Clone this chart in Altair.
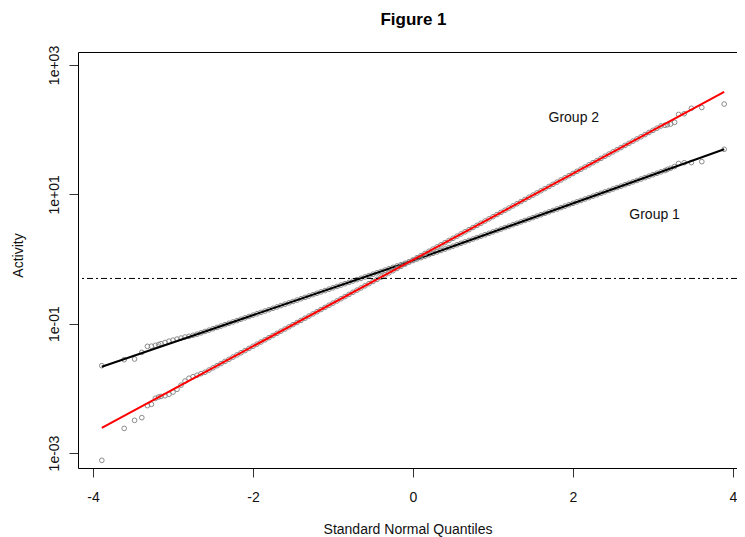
import altair as alt
import pandas as pd

# ---- data ----
q_tail_lo = [-3.89, -3.61, -3.48, -3.39, -3.32, -3.27, -3.22, -3.18, -3.15]
q_bulk = [-3.10, -3.05, -3.00, -2.95, -2.90, -2.85, -2.80, -2.75, -2.70, -2.65,
          -2.60, -2.55, -2.50, -2.45, -2.40, -2.35, -2.30, -2.25, -2.20, -2.15,
          -2.10, -2.05, -2.00, -1.95, -1.90, -1.85, -1.80, -1.75, -1.70, -1.65,
          -1.60, -1.55, -1.50, -1.45, -1.40, -1.35, -1.30, -1.25, -1.20, -1.15,
          -1.10, -1.05, -1.00, -0.95, -0.90, -0.85, -0.80, -0.75, -0.70, -0.65,
          -0.60, -0.55, -0.50, -0.45, -0.40, -0.35, -0.30, -0.25, -0.20, -0.15,
          -0.10, -0.05, 0.00,
          0.05, 0.10, 0.15, 0.20, 0.25, 0.30, 0.35, 0.40, 0.45, 0.50,
          0.55, 0.60, 0.65, 0.70, 0.75, 0.80, 0.85, 0.90, 0.95, 1.00,
          1.05, 1.10, 1.15, 1.20, 1.25, 1.30, 1.35, 1.40, 1.45, 1.50,
          1.55, 1.60, 1.65, 1.70, 1.75, 1.80, 1.85, 1.90, 1.95, 2.00,
          2.05, 2.10, 2.15, 2.20, 2.25, 2.30, 2.35, 2.40, 2.45, 2.50,
          2.55, 2.60, 2.65, 2.70, 2.75, 2.80, 2.85, 2.90, 2.95, 3.00,
          3.05, 3.10]
q_tail_hi = [3.15, 3.18, 3.22, 3.27, 3.32, 3.39, 3.48, 3.61, 3.89]

g1_tail_lo = [0.0224, 0.0277, 0.0284, 0.0360, 0.0446, 0.0448, 0.0462, 0.0475, 0.0490]
g1_bulk = [0.0511, 0.0536, 0.0556, 0.0577, 0.0598, 0.0621, 0.0637, 0.0661, 0.0687, 0.0721,
           0.0757, 0.0794, 0.0834, 0.0875, 0.0919, 0.0965, 0.1013, 0.1063, 0.1116, 0.1171,
           0.1230, 0.1291, 0.1355, 0.1423, 0.1494, 0.1568, 0.1646, 0.1728, 0.1814, 0.1904,
           0.1999, 0.2098, 0.2203, 0.2313, 0.2428, 0.2549, 0.2676, 0.2809, 0.2949, 0.3096,
           0.3250, 0.3412, 0.3581, 0.3760, 0.3947, 0.4143, 0.4350, 0.4566, 0.4793, 0.5032,
           0.5282, 0.5545, 0.5821, 0.6110, 0.6414, 0.6734, 0.7069, 0.7421, 0.7790, 0.8178,
           0.8585, 0.9013, 0.9462,
           0.998, 1.050, 1.105, 1.163, 1.223, 1.287, 1.354, 1.425, 1.499, 1.578,
           1.660, 1.747, 1.838, 1.934, 2.035, 2.141, 2.253, 2.370, 2.494, 2.624,
           2.761, 2.905, 3.057, 3.216, 3.384, 3.561, 3.746, 3.942, 4.148, 4.365,
           4.593, 4.832, 5.085, 5.350, 5.629, 5.923, 6.232, 6.558, 6.900, 7.261,
           7.640, 8.038, 8.458, 8.900, 9.365, 9.854, 10.37, 10.91, 11.48, 12.08,
           12.71, 13.37, 14.07, 14.81, 15.58, 16.39, 17.25, 18.15, 19.10, 20.09,
           21.14, 22.25]
g1_tail_hi = [23.3, 24.3, 25.3, 26.9, 30.0, 30.8, 31.0, 32.0, 49.7]

g2_tail_lo = [0.00077, 0.0024, 0.0032, 0.00352, 0.0054, 0.00566, 0.0070, 0.00735, 0.0075]
g2_bulk = [0.00768, 0.00810, 0.00875, 0.00967, 0.01119, 0.01295, 0.01431, 0.01510, 0.01594, 0.01682,
           0.01775, 0.01917, 0.02070, 0.02236, 0.02414, 0.02608, 0.02816, 0.03041, 0.03284, 0.03547,
           0.03830, 0.04137, 0.04467, 0.04824, 0.05210, 0.05627, 0.06077, 0.06561, 0.07086, 0.07653,
           0.08265, 0.08926, 0.09638, 0.1041, 0.1124, 0.1214, 0.1311, 0.1416, 0.1529, 0.1651,
           0.1783, 0.1926, 0.2080, 0.2246, 0.2426, 0.2620, 0.2829, 0.3055, 0.3299, 0.3563,
           0.3848, 0.4156, 0.4487, 0.4846, 0.5234, 0.5652, 0.6104, 0.6592, 0.7119, 0.7688,
           0.8303, 0.8966, 0.9683,
           1.046, 1.129, 1.219, 1.317, 1.422, 1.536, 1.659, 1.791, 1.935, 2.089,
           2.256, 2.437, 2.632, 2.842, 3.069, 3.314, 3.579, 3.866, 4.175, 4.508,
           4.869, 5.258, 5.678, 6.132, 6.622, 7.152, 7.723, 8.341, 9.008, 9.727,
           10.50, 11.34, 12.25, 13.23, 14.29, 15.43, 16.67, 18.00, 19.44, 20.99,
           22.67, 24.48, 26.44, 28.55, 30.83, 33.30, 35.96, 38.84, 41.94, 45.29,
           48.91, 52.82, 57.04, 61.60, 66.53, 71.84, 77.59, 83.79, 90.48, 97.72,
           105.5, 114.0]
g2_tail_hi = [117, 119, 122, 130, 172, 176, 214, 220, 249]

line_q = [-3.89, 0.0, 3.89]
line_g1 = [0.0216, 0.946, 49.7]
line_g2 = [0.00244, 0.968, 384]

ref_level = [0.5]

label_text = ["Group 2", "Group 1"]
label_q = [2.01, 3.02]
label_y = [151, 4.79]

title_text = ["Figure 1"]

x_ticks = [-4, -2, 0, 2, 4]
y_ticks = [0.001, 0.1, 10, 1000]

# ---- tables ----
q_all = q_tail_lo + q_bulk + q_tail_hi
g1_all = g1_tail_lo + g1_bulk + g1_tail_hi
g2_all = g2_tail_lo + g2_bulk + g2_tail_hi
pts1 = pd.DataFrame({"q": q_all, "activity": g1_all})
pts2 = pd.DataFrame({"q": q_all, "activity": g2_all})
ln1 = pd.DataFrame({"q": line_q, "activity": line_g1})
ln2 = pd.DataFrame({"q": line_q, "activity": line_g2})
ref = pd.DataFrame({"activity": ref_level})
labels = pd.DataFrame({"q": label_q, "activity": label_y, "text": label_text})
title_df = pd.DataFrame({"text": title_text})

FONT = "Liberation Sans"
FS = 14
x_scale = alt.Scale(domain=[-4.1875, 4.05], nice=False, zero=False)
y_scale = alt.Scale(type="log", domain=[0.000586, 1588], nice=False)

x_axis = alt.Axis(values=x_ticks, title="Standard Normal Quantiles", grid=False,
                  domain=True, domainColor="black", domainWidth=1,
                  tickSize=9, labelPadding=13, labelFontSize=FS,
                  labelExpr="datum.value < 0 ? '-' + abs(datum.value) : '' + datum.value",
                  labelFont=FONT, labelColor="#111", tickColor="#333",
                  titleFont=FONT, titleFontSize=FS, titleFontWeight="normal",
                  titleColor="#111", titleBaseline="alphabetic", titleY=65)
y_axis = alt.Axis(values=y_ticks, title="Activity", grid=False,
                  domain=True, domainColor="black", domainWidth=1,
                  tickSize=9, labelPadding=11, labelFontSize=FS, labelFont=FONT,
                  labelColor="#111", tickColor="#333", labelAngle=270,
                  labelAlign="center", labelBaseline="alphabetic",
                  labelExpr="datum.value < 0.01 ? '1e-03' : datum.value < 1 ? '1e-01' : datum.value < 100 ? '1e+01' : '1e+03'",
                  titleFont=FONT, titleFontSize=FS, titleFontWeight="normal",
                  titleColor="#111", titleAngle=270, titleAlign="center",
                  titleBaseline="alphabetic", titleX=-56, titleY=203)
top_axis = alt.Axis(orient="top", title=None, labels=False, ticks=False, grid=False,
                    domain=True, domainColor="black", domainWidth=1)


def X(axis=None):
    return alt.X("q:Q", scale=x_scale, axis=axis)


def Y():
    return alt.Y("activity:Q", scale=y_scale)


point_style = dict(shape="circle", filled=False, color="#8a8a8a", size=22, strokeWidth=1, opacity=1)

p1 = alt.Chart(pts1).mark_point(**point_style).encode(
    x=X(x_axis), y=alt.Y("activity:Q", scale=y_scale, axis=y_axis))
l1 = alt.Chart(ln1).mark_line(color="black", strokeWidth=2).encode(x=X(), y=Y())
p2 = alt.Chart(pts2).mark_point(**point_style).encode(x=X(), y=Y())
l2 = alt.Chart(ln2).mark_line(color="#ff0000", strokeWidth=2).encode(x=X(), y=Y())
rule = alt.Chart(ref).mark_rule(color="black", strokeWidth=1, strokeDash=[6, 3, 2, 3]).encode(y=Y())
txt = alt.Chart(labels).mark_text(font=FONT, fontSize=FS, color="#111").encode(x=X(), y=Y(), text="text:N")
frame_top = alt.Chart(ln1).mark_line(opacity=0).encode(x=X(top_axis), y=Y())
title_mark = alt.Chart(title_df).mark_text(
    font=FONT, fontSize=17, fontWeight="bold", color="black",
    align="center", baseline="alphabetic").encode(
    x=alt.value(335.5), y=alt.value(-27), text="text:N")

chart = alt.layer(p1, l1, p2, l2, rule, txt, frame_top, title_mark).resolve_axis(
    x="independent"
).properties(
    width=659, height=416,
    autosize=alt.AutoSizeParams(type="none"),
    padding={"left": 70, "top": 44, "right": 0, "bottom": 72},
).configure_view(stroke="transparent", strokeWidth=0).configure(background="white")

chart.save("out.html", embed_options={"renderer": "svg", "actions": False})
